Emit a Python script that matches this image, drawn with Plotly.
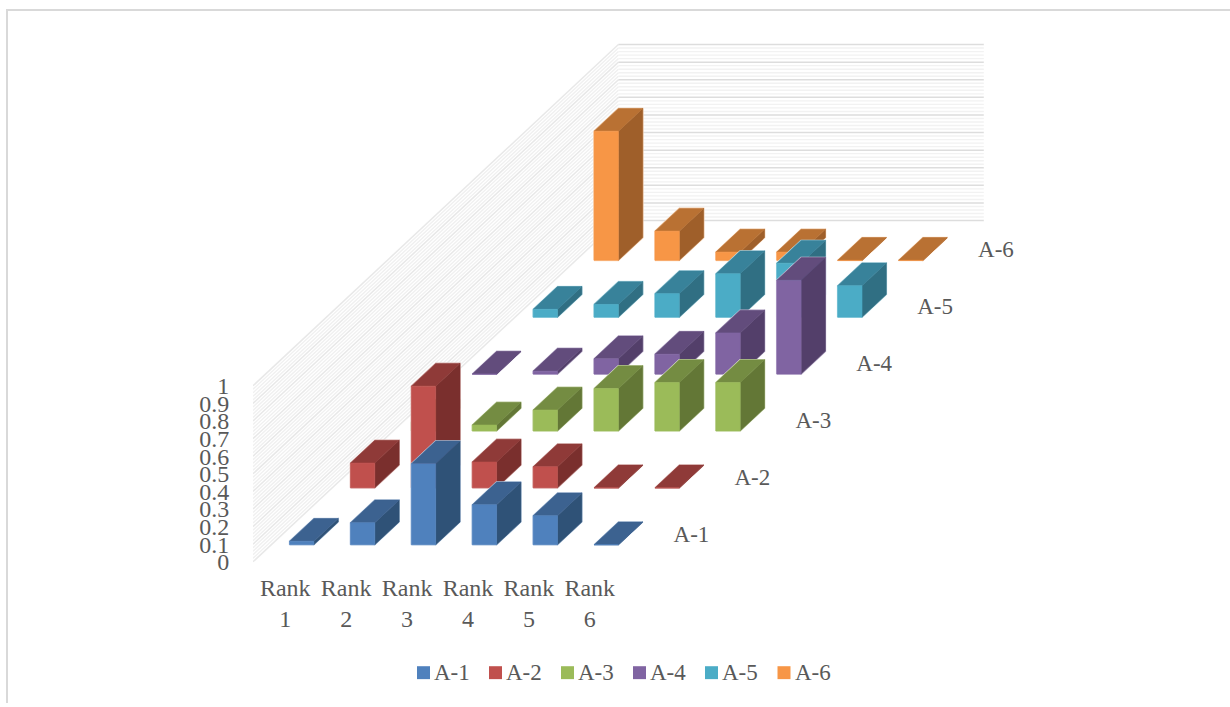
import plotly.graph_objects as go

ranks = ["Rank 1", "Rank 2", "Rank 3", "Rank 4", "Rank 5", "Rank 6"]
series_names = ["A-1", "A-2", "A-3", "A-4", "A-5", "A-6"]
a1 = [0.02, 0.125, 0.46, 0.227, 0.165, 0.0]
a2 = [0.141, 0.578, 0.147, 0.12, 0.0, 0.0]
a3 = [0.05, 0.034, 0.119, 0.241, 0.275, 0.275]
a4 = [0.0, 0.017, 0.087, 0.113, 0.234, 0.533]
a5 = [0.045, 0.073, 0.134, 0.247, 0.307, 0.179]
a6 = [0.734, 0.166, 0.047, 0.047, 0.0, 0.0]
series_values = [a1, a2, a3, a4, a5, a6]

# front, top and side shades of every series
front_colors = ["#4F81BD", "#C0504D", "#9BBB59", "#8064A2", "#4BACC6", "#F79646"]
top_colors = ["#3C6290", "#8F3A38", "#748C42", "#624C7C", "#38829A", "#B97133"]
side_colors = ["#2F5277", "#7A2F2D", "#637736", "#533F6A", "#306F83", "#9F5F2A"]
halo_colors = ["#C9D9EC", "#EBCFCE", "#DFE9CB", "#D6CDE2", "#C6E6EE", "#FCDDC2"]

TEXT = "#595959"
FONT = "Liberation Serif"
SIZE = 24

W, H = 1230, 707
LEFT, BOTTOM = 253, 574      # pixel position of the plot area's left and bottom edges
ZERO_PX = 565                # pixel row of value 0 on the front edge of the floor
UNIT_X, UNIT_Y = 60.9, 177.0  # pixels per rank step and per unit of value
SHEAR_Y = 57.2 / UNIT_Y      # rise of the floor per series step


def project(rank, depth, value):
    """Oblique projection: every series step moves right by one rank and up by SHEAR_Y."""
    return rank + depth, value + depth * SHEAR_Y


def polygon(points):
    xs, ys = zip(*[project(*p) for p in points])
    return list(xs) + [xs[0]], list(ys) + [ys[0]]


def paper_x(px):
    return px / W


def paper_y(px):
    return (H - px) / H


fig = go.Figure()


def gridlines(values, side_color, back_color, width):
    """Draw constant-value lines across the side wall and the back wall."""
    walls = [(side_color, lambda v: ((0.5, 0, v), (0.5, 6, v))),
             (back_color, lambda v: ((0.5, 6, v), (6.5, 6, v)))]
    for color, ends in walls:
        xs, ys = [], []
        for v in values:
            a, b = ends(v)
            p, q = project(*a), project(*b)
            xs += [p[0], q[0], None]
            ys += [p[1], q[1], None]
        fig.add_trace(go.Scatter(x=xs, y=ys, mode="lines", hoverinfo="skip",
                                 line=dict(color=color, width=width), showlegend=False))


gridlines([i / 50 for i in range(51) if i % 5], "#F0F0F0", "#F2F2F2", 1.4)
gridlines([i / 10 for i in range(11)], "#E8E8E8", "#DDDDDD", 1.5)


def face(points, color, name):
    xs, ys = polygon(points)
    fig.add_trace(go.Scatter(x=xs, y=ys, mode="lines", fill="toself", fillcolor=color,
                             line=dict(width=0.6, color=color), name=name, showlegend=False,
                             hoverinfo="skip"))


# Paint from the back series to the front one so nearer columns hide farther ones
for s in range(5, -1, -1):
    for r in range(6):
        v = series_values[s][r]
        x0, x1 = r + 1 - 0.2, r + 1 + 0.2
        d0, d1 = s + 0.3, s + 0.7
        outline = [(x0, d0, 0), (x1, d0, 0), (x1, d1, 0), (x1, d1, v), (x0, d1, v), (x0, d0, v)]
        xs, ys = polygon(outline)
        fig.add_trace(go.Scatter(x=xs, y=ys, mode="lines", hoverinfo="skip", showlegend=False,
                                 line=dict(color=halo_colors[s], width=1.6)))
        face([(x1, d0, 0), (x1, d1, 0), (x1, d1, v), (x1, d0, v)], side_colors[s], series_names[s])
        face([(x0, d0, v), (x1, d0, v), (x1, d1, v), (x0, d1, v)], top_colors[s], series_names[s])
        face([(x0, d0, 0), (x1, d0, 0), (x1, d0, v), (x0, d0, v)], front_colors[s], series_names[s])

# Series names run along the right side of the floor
label_pts = [project(7.2, s + 0.5, -0.015) for s in range(6)]
fig.add_trace(go.Scatter(x=[p[0] for p in label_pts], y=[p[1] for p in label_pts],
                         mode="text", text=series_names, textposition="middle center",
                         textfont=dict(family=FONT, size=SIZE - 1, color=TEXT),
                         hoverinfo="skip", showlegend=False))

shapes = [
    dict(type="line", xref="paper", yref="paper", x0=paper_x(7), x1=paper_x(7),
         y0=paper_y(10), y1=paper_y(H), line=dict(color="#D9D9D9", width=2)),
    dict(type="line", xref="paper", yref="paper", x0=paper_x(6), x1=paper_x(W),
         y0=paper_y(10), y1=paper_y(10), line=dict(color="#D9D9D9", width=2)),
]
annotations = []
legend_left = [417, 489, 561, 633, 705, 777.5]
for s, name in enumerate(series_names):
    px = legend_left[s]
    shapes.append(dict(type="rect", xref="paper", yref="paper",
                       x0=paper_x(px), x1=paper_x(px + 13),
                       y0=paper_y(683), y1=paper_y(670),
                       fillcolor=front_colors[s], line=dict(width=0)))
    annotations.append(dict(xref="paper", yref="paper", x=paper_x(px + 15), y=paper_y(676.5),
                            text=name, showarrow=False, xanchor="left", yanchor="middle",
                            font=dict(family=FONT, size=SIZE - 1, color=TEXT)))

fig.update_layout(
    width=W, height=H,
    margin=dict(l=0, r=0, t=0, b=0),
    paper_bgcolor="white", plot_bgcolor="white",
    showlegend=False,
    shapes=shapes, annotations=annotations,
    font=dict(family=FONT, size=SIZE, color=TEXT),
    xaxis=dict(domain=[LEFT / W, 1],
               range=[0.5, 0.5 + (W - LEFT) / UNIT_X],
               tickmode="array", tickvals=[r + 1.03 for r in range(6)],
               ticktext=[t.replace(" ", "<br>") for t in ranks],
               ticks="", tickangle=0, showgrid=False, zeroline=False, showline=False,
               tickfont=dict(family=FONT, size=SIZE, color=TEXT)),
    yaxis=dict(domain=[(H - BOTTOM) / H, 1],
               range=[(ZERO_PX - BOTTOM) / UNIT_Y, ZERO_PX / UNIT_Y],
               tickmode="array", tickvals=[i / 10 for i in range(11)],
               ticktext=["0", "0.1", "0.2", "0.3", "0.4", "0.5", "0.6", "0.7", "0.8", "0.9", "1"],
               ticks="outside", ticklen=18, tickcolor="rgba(0,0,0,0)",
               showgrid=False, zeroline=False, showline=False,
               tickfont=dict(family=FONT, size=SIZE, color=TEXT)),
)

fig.write_html("out.html")
